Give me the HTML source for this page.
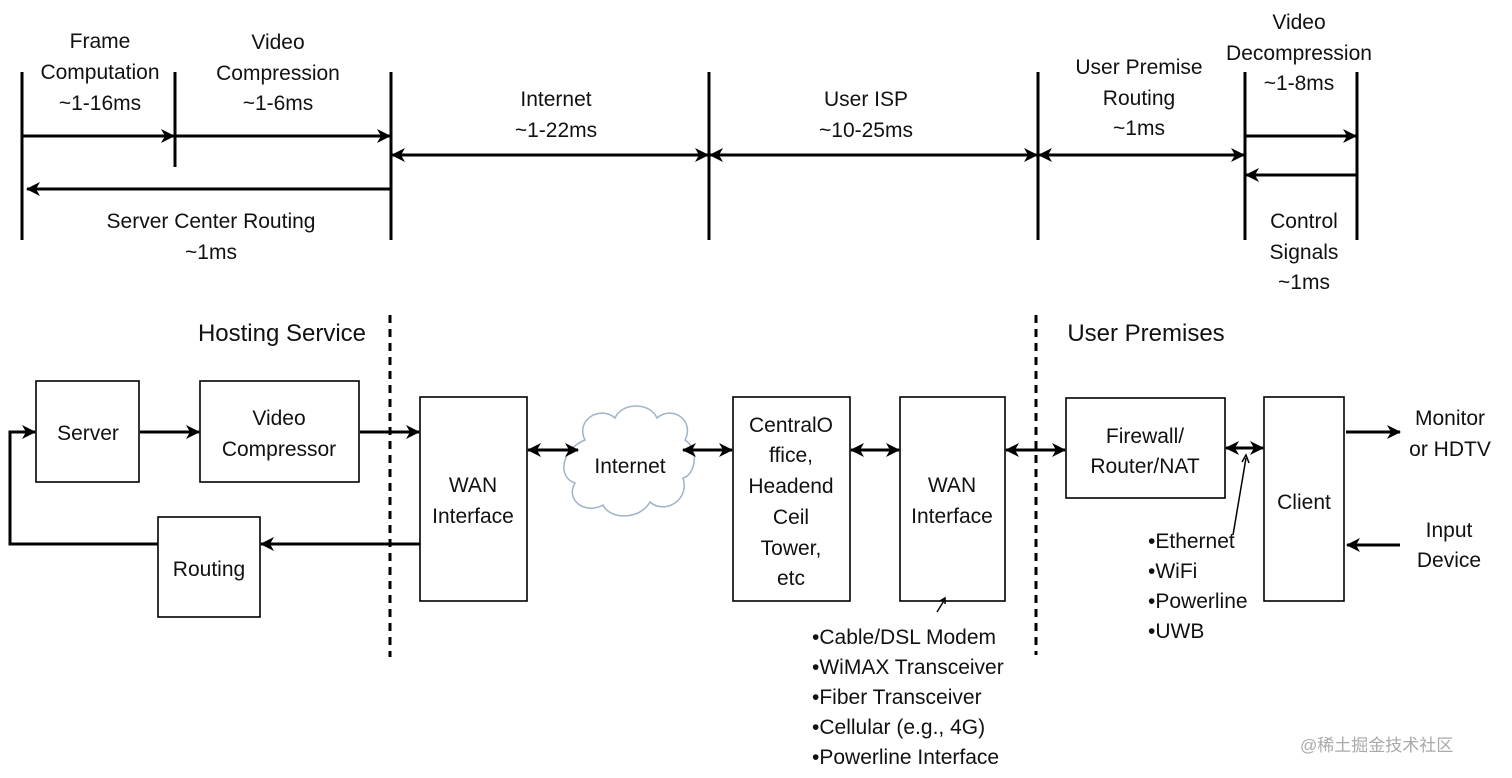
<!DOCTYPE html>
<html><head><meta charset="utf-8"><style>
html,body{margin:0;padding:0;background:#fff;}
svg{display:block;}
text{font-family:"Liberation Sans","Noto Sans CJK SC",sans-serif;font-size:21px;fill:#111;}
</style></head><body>
<svg width="1512" height="778" viewBox="0 0 1512 778" xmlns="http://www.w3.org/2000/svg">
<defs>
<marker id="a" markerWidth="14" markerHeight="14" refX="13" refY="7" orient="auto-start-reverse" markerUnits="userSpaceOnUse">
<path d="M0,0 L14,7 L0,14 L4,7 Z" fill="#000"/></marker>
</defs>
<g stroke="#000" stroke-width="3" fill="none">
<line x1="22" y1="72" x2="22" y2="240"/>
<line x1="175" y1="72" x2="175" y2="167"/>
<line x1="391" y1="72" x2="391" y2="240"/>
<line x1="709" y1="72" x2="709" y2="240"/>
<line x1="1038" y1="72" x2="1038" y2="240"/>
<line x1="1245" y1="72" x2="1245" y2="240"/>
<line x1="1357" y1="72" x2="1357" y2="240"/>
<line x1="22" y1="136" x2="174" y2="136" marker-end="url(#a)"/>
<line x1="176" y1="136" x2="390" y2="136" marker-end="url(#a)"/>
<line x1="392" y1="155" x2="708" y2="155" marker-start="url(#a)" marker-end="url(#a)"/>
<line x1="710" y1="155" x2="1037" y2="155" marker-start="url(#a)" marker-end="url(#a)"/>
<line x1="1039" y1="155" x2="1244" y2="155" marker-start="url(#a)" marker-end="url(#a)"/>
<line x1="391" y1="189" x2="27" y2="189" marker-end="url(#a)"/>
<line x1="1245" y1="136" x2="1356" y2="136" marker-end="url(#a)"/>
<line x1="1357" y1="175" x2="1246" y2="175" marker-end="url(#a)"/>
</g>
<g stroke="#000" stroke-width="1.6" fill="#fff">
<rect x="36" y="381" width="103" height="101"/>
<rect x="200" y="381" width="159" height="101"/>
<rect x="158" y="517" width="102" height="100"/>
<rect x="420" y="397" width="107" height="204"/>
<rect x="733" y="397" width="117" height="204"/>
<rect x="900" y="397" width="105" height="204"/>
<rect x="1066" y="398" width="159" height="100"/>
<rect x="1264" y="397" width="80" height="204"/>
</g>
<path d="M585,440 C575,420 600,405 615,418 C622,402 650,402 657,418 C672,405 695,420 685,440 C700,450 695,475 683,478 C690,500 665,515 650,502 C640,520 610,520 603,505 C585,515 565,500 575,483 C558,478 560,450 585,440 Z" fill="#fff" stroke="#9fb3c8" stroke-width="1.5"/>
<g stroke="#000" stroke-width="3" fill="none">
<line x1="140" y1="432" x2="199" y2="432" marker-end="url(#a)"/>
<line x1="360" y1="432" x2="419" y2="432" marker-end="url(#a)"/>
<line x1="420" y1="544" x2="261" y2="544" marker-end="url(#a)"/>
<polyline points="158,544 10,544 10,432 35,432" marker-end="url(#a)"/>
<line x1="528" y1="450" x2="578" y2="450" marker-start="url(#a)" marker-end="url(#a)"/>
<line x1="683" y1="450" x2="732" y2="450" marker-start="url(#a)" marker-end="url(#a)"/>
<line x1="851" y1="450" x2="899" y2="450" marker-start="url(#a)" marker-end="url(#a)"/>
<line x1="1006" y1="450" x2="1065" y2="450" marker-start="url(#a)" marker-end="url(#a)"/>
<line x1="1226" y1="448" x2="1263" y2="448" marker-start="url(#a)" marker-end="url(#a)"/>
<line x1="1346" y1="432" x2="1400" y2="432" marker-end="url(#a)"/>
<line x1="1400" y1="545" x2="1347" y2="545" marker-end="url(#a)"/>
</g>
<g stroke="#000" stroke-width="3" stroke-dasharray="8,6">
<line x1="390" y1="315" x2="390" y2="657"/>
<line x1="1036" y1="315" x2="1036" y2="655"/>
</g>
<g stroke="#000" stroke-width="1.5" fill="none">
<line x1="1233" y1="535" x2="1246" y2="458"/>
<path d="M1242,462 L1246,455 L1249,463" />
<line x1="937" y1="612" x2="945" y2="599"/>
<path d="M940,601 L945,598 L945,604"/>
</g>
<g text-anchor="middle">
<text x="100" y="48">Frame</text><text x="100" y="79">Computation</text><text x="100" y="110">~1-16ms</text>
<text x="278" y="49">Video</text><text x="278" y="80">Compression</text><text x="278" y="110">~1-6ms</text>
<text x="556" y="106">Internet</text><text x="556" y="137">~1-22ms</text>
<text x="866" y="106">User ISP</text><text x="866" y="137">~10-25ms</text>
<text x="1139" y="74">User Premise</text><text x="1139" y="105">Routing</text><text x="1139" y="135">~1ms</text>
<text x="1299" y="29">Video</text><text x="1299" y="60">Decompression</text><text x="1299" y="90">~1-8ms</text>
<text x="1304" y="228">Control</text><text x="1304" y="259">Signals</text><text x="1304" y="289">~1ms</text>
<text x="211" y="228">Server Center Routing</text><text x="211" y="259">~1ms</text>
<text x="282" y="341" style="font-size:24px">Hosting Service</text>
<text x="1146" y="341" style="font-size:24px">User Premises</text>
<text x="88" y="440">Server</text>
<text x="279" y="425">Video</text><text x="279" y="456">Compressor</text>
<text x="209" y="576">Routing</text>
<text x="473" y="492">WAN</text><text x="473" y="523">Interface</text>
<text x="630" y="473">Internet</text>
<text x="791" y="432">CentralO</text><text x="791" y="462">ffice,</text><text x="791" y="493">Headend</text><text x="791" y="524">Ceil</text><text x="791" y="555">Tower,</text><text x="791" y="585">etc</text>
<text x="952" y="492">WAN</text><text x="952" y="523">Interface</text>
<text x="1145" y="443">Firewall/</text><text x="1145" y="473">Router/NAT</text>
<text x="1304" y="509">Client</text>
<text x="1450" y="425">Monitor</text><text x="1450" y="456">or HDTV</text>
<text x="1449" y="537">Input</text><text x="1449" y="567">Device</text>
</g>
<g>
<text x="1148" y="548">•Ethernet</text>
<text x="1148" y="578">•WiFi</text>
<text x="1148" y="608">•Powerline</text>
<text x="1148" y="638">•UWB</text>
<text x="812" y="644">•Cable/DSL Modem</text>
<text x="812" y="674">•WiMAX Transceiver</text>
<text x="812" y="704">•Fiber Transceiver</text>
<text x="812" y="734">•Cellular (e.g., 4G)</text>
<text x="812" y="764">•Powerline Interface</text>
<text x="1300" y="751" style="font-size:17px;fill:#aaa">@稀土掘金技术社区</text>
</g>
</svg>
</body></html>
